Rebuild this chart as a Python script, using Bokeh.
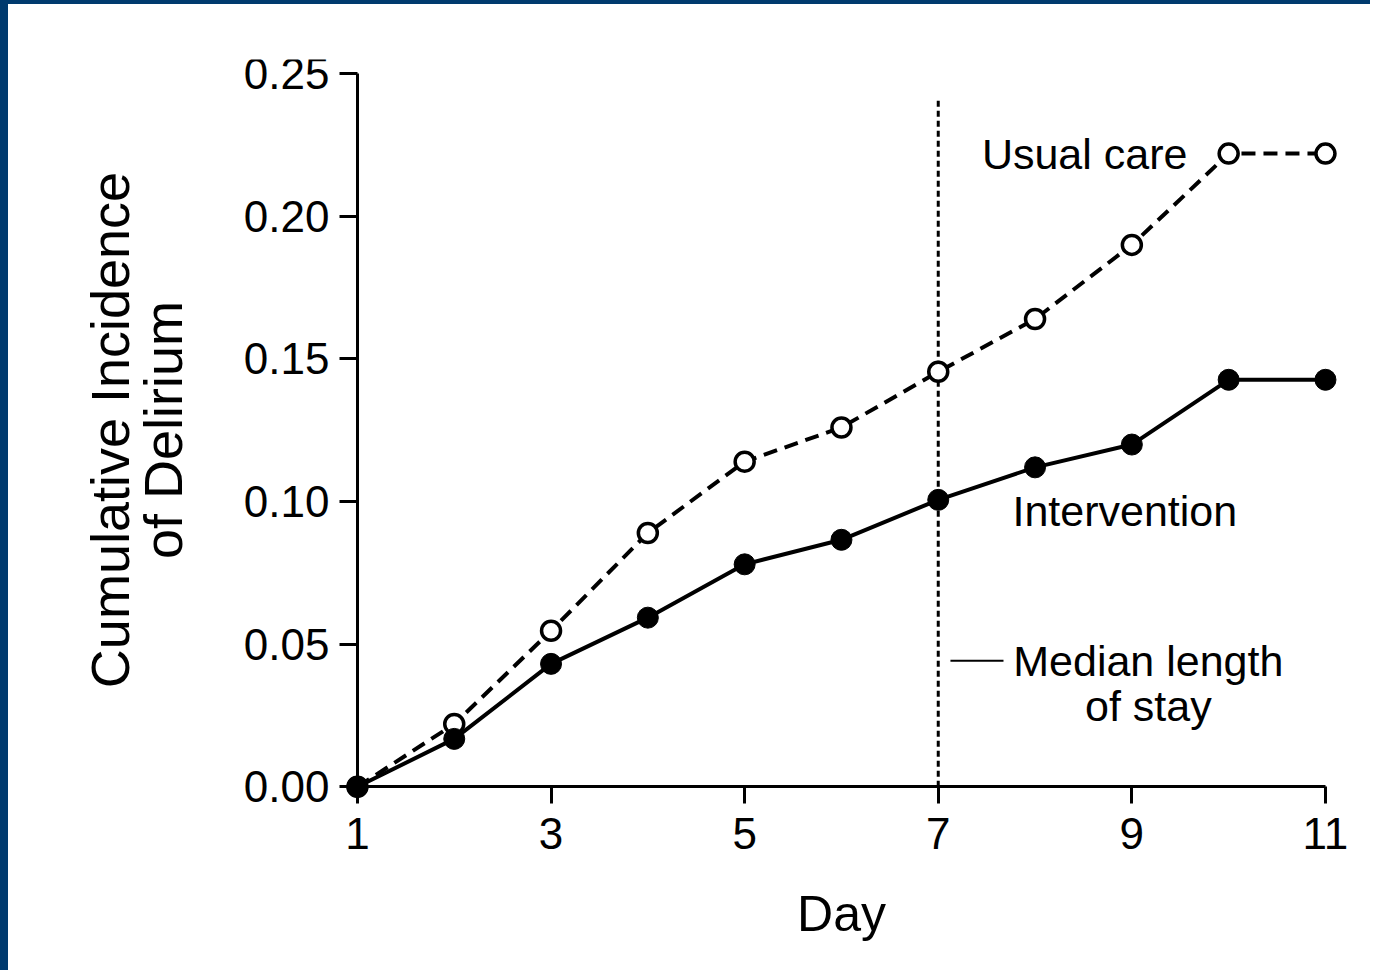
from bokeh.plotting import figure
from bokeh.models import Range1d, LinearAxis, FixedTicker, PrintfTickFormatter, GlobalInlineStyleSheet
from bokeh.embed import file_html
from bokeh.resources import INLINE
from bokeh.core.properties import value

# ---- data ----
days = [1, 2, 3, 4, 5, 6, 7, 8, 9, 10, 11]
usual_care = [0.0, 0.022, 0.0547, 0.089, 0.114, 0.126, 0.1455, 0.164, 0.190, 0.222, 0.222]
intervention = [0.0, 0.0168, 0.0431, 0.0593, 0.078, 0.0866, 0.1006, 0.112, 0.120, 0.1427, 0.1427]
x_ticks = [1, 3, 5, 7, 9, 11]
y_ticks = [0.0, 0.05, 0.10, 0.15, 0.20, 0.25]
median_day = 7
median_line_top = 0.2405

FONT = "Liberation Sans"
BLUE = "#003a6e"

p = figure(width=1370, height=970,
           x_range=Range1d(-2.398, 11.3), y_range=Range1d(-0.0588, 0.255),
           output_backend="svg", toolbar_location=None,
           x_axis_location=None, y_axis_location=None,
           min_border_left=20, min_border_right=24,
           min_border_top=55, min_border_bottom=20,
           background_fill_color="white", border_fill_color="white")
p.outline_line_color = None
p.grid.visible = False
p.stylesheets = [GlobalInlineStyleSheet(css="body{margin:0 !important;}")]
p.styles = {"border-top": f"4px solid {BLUE}", "border-left": f"8px solid {BLUE}"}

xaxis = LinearAxis(fixed_location=0, ticker=FixedTicker(ticks=x_ticks), bounds=(1, 11),
                   axis_line_width=3, major_tick_line_width=3, axis_line_color="black",
                   major_tick_line_color="black",
                   major_tick_out=17, major_tick_in=0, minor_tick_out=0, minor_tick_in=0,
                   major_label_text_font=FONT, major_label_text_font_size="44px",
                   major_label_text_color="black", major_label_standoff=14,
                   axis_label="Day", axis_label_text_font=FONT, axis_label_text_color="black",
                   axis_label_text_font_size="50px", axis_label_text_font_style="normal",
                   axis_label_standoff=34)
yaxis = LinearAxis(fixed_location=1, ticker=FixedTicker(ticks=y_ticks), bounds=(0, 0.25),
                   formatter=PrintfTickFormatter(format="%.2f"),
                   axis_line_width=3, major_tick_line_width=3, axis_line_color="black",
                   major_tick_line_color="black",
                   major_tick_out=18, major_tick_in=0, minor_tick_out=0, minor_tick_in=0,
                   major_label_text_font=FONT, major_label_text_font_size="44px",
                   major_label_text_color="black", major_label_standoff=10,
                   axis_label="Cumulative Incidence\nof Delirium", axis_label_text_font=FONT,
                   axis_label_text_color="black", axis_label_text_line_height=0.88,
                   axis_label_text_font_size="54px", axis_label_text_font_style="normal",
                   axis_label_standoff=48)
p.add_layout(xaxis, "below")
p.add_layout(yaxis, "left")

# median length of stay marker
p.segment(x0=[median_day], y0=[0], x1=[median_day], y1=[median_line_top],
          line_color="black", line_width=3, line_dash="6 4")
p.segment(x0=[7.126], y0=[0.0442], x1=[7.674], y1=[0.0442], line_color="black", line_width=2)

# series
p.line(days, usual_care, line_color="black", line_width=4, line_dash="14 8")
p.line(days, intervention, line_color="black", line_width=4)
p.scatter(days, usual_care, marker="circle", size=19, fill_color="white",
          line_color="black", line_width=3.5)
p.scatter(days, intervention, marker="circle", size=21, fill_color="black",
          line_color="black", line_width=1)

# labels
TXT = dict(text_font=value(FONT), text_font_size=value("43px"), text_color="black",
           text_baseline="middle")
p.text(x=[9.574], y=[0.222], text=["Usual care"], text_align="right", **TXT)
p.text(x=[7.767], y=[0.0968], text=["Intervention"], text_align="left", **TXT)
p.text(x=[9.17], y=[0.0442], text=["Median length"], text_align="center", **TXT)
p.text(x=[9.17], y=[0.0284], text=["of stay"], text_align="center", **TXT)

open("out.html", "w").write(file_html(p, INLINE))
